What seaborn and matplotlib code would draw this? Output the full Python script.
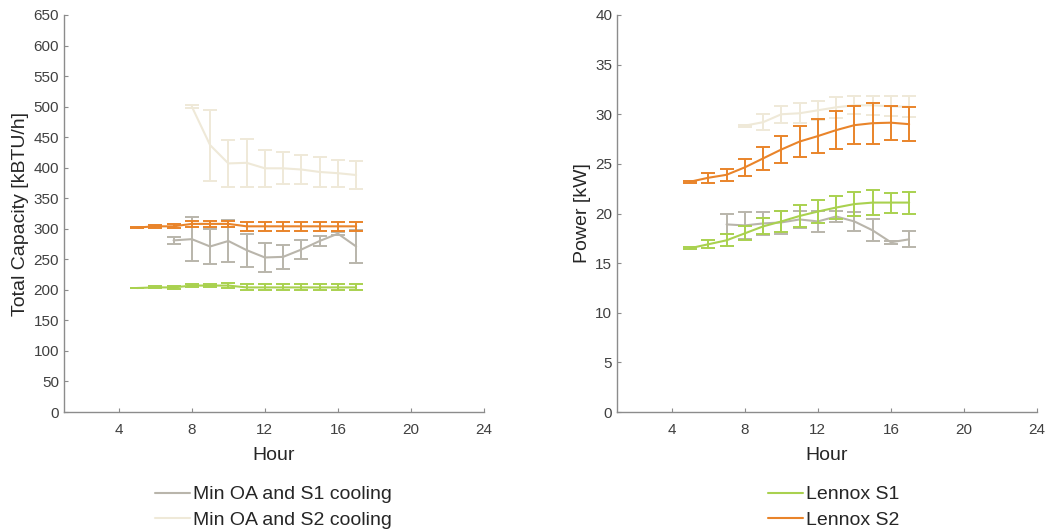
import numpy as np
import pandas as pd
import matplotlib
matplotlib.use("Agg")
import matplotlib.pyplot as plt
import seaborn as sns

# hours for each series
hours_s1 = [7, 8, 9, 10, 11, 12, 13, 14, 15, 16, 17]
hours_s2 = [8, 9, 10, 11, 12, 13, 14, 15, 16, 17]
hours_lx = [5, 6, 7, 8, 9, 10, 11, 12, 13, 14, 15, 16, 17]

# total capacity [kBTU/h] (left panel)
cap_s1 = [281, 283, 271, 280, 265, 253, 254, 266, 280, 292, 271]
cap_s1_err = [6, 36, 29, 35, 27, 24, 20, 16, 8, 3, 27]
cap_s2 = [500, 437, 407, 408, 399, 399, 397, 393, 391, 388]
cap_s2_err = [2, 58, 39, 39, 30, 26, 23, 25, 22, 23]
cap_lx1 = [203, 204, 204, 207, 207, 207, 204, 204, 204, 204, 204, 204, 204]
cap_lx1_err = [0.5, 1.5, 2, 3, 3, 4, 5, 5, 5, 5, 5, 5, 5]
cap_lx2 = [302, 304, 304, 308, 308, 308, 304, 304, 304, 304, 304, 304, 304]
cap_lx2_err = [1, 2, 3, 5, 5, 5, 7, 7, 7, 7, 7, 7, 7]

# power [kW] (right panel)
pow_s1 = [18.9, 18.8, 19.0, 19.1, 19.4, 19.2, 19.7, 19.2, 18.3, 17.1, 17.4]
pow_s1_err = [1.0, 1.35, 1.15, 1.15, 0.9, 1.05, 0.6, 1.0, 1.1, 0.15, 0.8]
pow_s2 = [28.85, 29.2, 30.0, 30.1, 30.4, 30.7, 30.9, 30.9, 30.8, 30.75]
pow_s2_err = [0.1, 0.8, 0.85, 1.0, 0.95, 1.05, 0.9, 0.95, 1.0, 1.05]
pow_lx1 = [16.5, 16.9, 17.3, 18.0, 18.7, 19.2, 19.75, 20.2, 20.6, 20.95, 21.1, 21.1, 21.1]
pow_lx1_err = [0.1, 0.4, 0.6, 0.7, 0.8, 1.05, 1.15, 1.2, 1.15, 1.2, 1.25, 1.0, 1.1]
pow_lx2 = [23.2, 23.6, 23.9, 24.65, 25.55, 26.45, 27.25, 27.8, 28.4, 28.9, 29.1, 29.15, 29.0]
pow_lx2_err = [0.1, 0.5, 0.6, 0.85, 1.15, 1.4, 1.6, 1.7, 1.9, 1.9, 2.05, 1.7, 1.7]

labels = ["Min OA and S1 cooling", "Min OA and S2 cooling", "Lennox S1", "Lennox S2"]
colors = ["#b9b5ab", "#efe9d8", "#a9d14f", "#e9842a"]

sns.set_style("white")
plt.rcParams["font.family"] = ["Liberation Sans", "DejaVu Sans"]

fig = plt.figure(figsize=(10.47, 5.31), dpi=100)
ax1 = fig.add_axes([64 / 1047, 119 / 531, 420 / 1047, 397 / 531])
ax2 = fig.add_axes([617 / 1047, 119 / 531, 420 / 1047, 397 / 531])


def draw(ax, series):
    for (h, v, e), lab, c in zip(series, labels, colors):
        df = pd.DataFrame({"Hour": h, "value": v})
        sns.lineplot(data=df, x="Hour", y="value", ax=ax, color=c, lw=1.5,
                     label=lab, legend=False)
        ax.errorbar(h, v, yerr=e, fmt="none", ecolor=c, elinewidth=1.4,
                    capsize=5, capthick=1.4)


draw(ax1, [(hours_s1, cap_s1, cap_s1_err), (hours_s2, cap_s2, cap_s2_err),
           (hours_lx, cap_lx1, cap_lx1_err), (hours_lx, cap_lx2, cap_lx2_err)])
draw(ax2, [(hours_s1, pow_s1, pow_s1_err), (hours_s2, pow_s2, pow_s2_err),
           (hours_lx, pow_lx1, pow_lx1_err), (hours_lx, pow_lx2, pow_lx2_err)])

ax1.set_ylim(0, 650)
ax1.set_yticks(np.arange(0, 651, 50))
ax1.set_ylabel("Total Capacity [kBTU/h]", fontsize=14, color="#262626", labelpad=3)
ax2.set_ylim(0, 40)
ax2.set_yticks(np.arange(0, 41, 5))
ax2.set_ylabel("Power [kW]", fontsize=14, color="#262626", labelpad=3)

for ax in (ax1, ax2):
    ax.set_xlim(1, 24)
    ax.set_xticks([4, 8, 12, 16, 20, 24])
    ax.set_xlabel("Hour", fontsize=14, color="#262626", labelpad=7)
    sns.despine(ax=ax)
    for s in ("left", "bottom"):
        ax.spines[s].set_color("#8c8c8c")
        ax.spines[s].set_linewidth(1.0)
    ax.tick_params(direction="in", length=3, width=0.8, color="#8c8c8c",
                   labelsize=11, labelcolor="#404040", left=True, bottom=True)
    ax.tick_params(axis="x", pad=8)

h1, l1 = ax1.get_legend_handles_labels()
fig.legend(h1[:2], l1[:2], loc="upper left", bbox_to_anchor=(147 / 1047, 1 - 478 / 531),
           frameon=False, fontsize=14, handlelength=1.8, handletextpad=0.15,
           labelspacing=0.42, borderaxespad=0)
h2, l2 = ax2.get_legend_handles_labels()
fig.legend(h2[2:], l2[2:], loc="upper left", bbox_to_anchor=(760 / 1047, 1 - 478 / 531),
           frameon=False, fontsize=14, handlelength=1.8, handletextpad=0.15,
           labelspacing=0.42, borderaxespad=0)

fig.savefig("out.png", dpi=100)
